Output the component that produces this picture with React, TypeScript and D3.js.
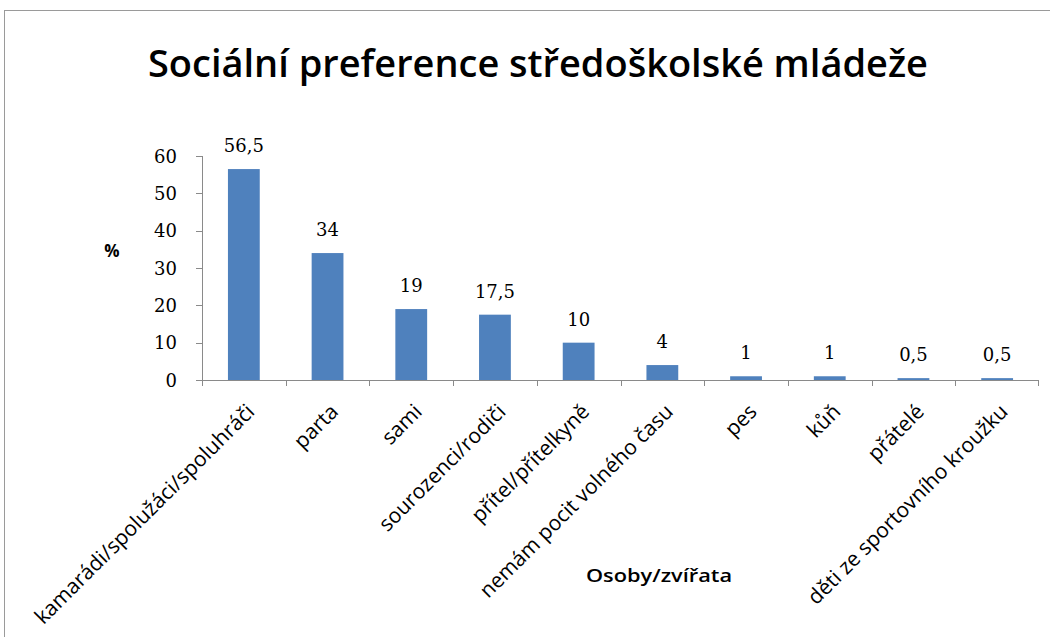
import React from "react";
import * as d3 from "d3";

const categories = [
  "kamarádi/spolužáci/spoluhráči",
  "parta",
  "sami",
  "sourozenci/rodiči",
  "přítel/přítelkyně",
  "nemám pocit volného času",
  "pes",
  "kůň",
  "přátelé",
  "děti ze sportovního kroužku",
];
const values = [56.5, 34, 19, 17.5, 10, 4, 1, 1, 0.5, 0.5];
const valueLabels = ["56,5", "34", "19", "17,5", "10", "4", "1", "1", "0,5", "0,5"];
const yTicks = [0, 10, 20, 30, 40, 50, 60];
const title = "Sociální preference středoškolské mládeže";
const yTitle = "%";
const xTitle = "Osoby/zvířata";

export default function App() {
  const W = 1050, H = 637;
  const left = 202, right = 1039, top = 156, bottom = 380;
  const x = d3.scaleBand<string>().domain(categories).range([left, right]).paddingInner(0).paddingOuter(0);
  const y = d3.scaleLinear().domain([0, 60]).range([bottom, top]);
  const bw = x.bandwidth() * 0.38;
  const axisColor = "#8a8a8a";
  const serif = "'DejaVu Serif', serif";
  const sans = "'Open Sans', sans-serif";
  return (
    <svg width={W} height={H} style={{ position: "absolute", left: 0, top: 0, background: "#fff" }}>
      <rect x={4.5} y={10.5} width={1060} height={700} fill="#fff" stroke="#9a9a9a" strokeWidth={1} />
      <text x={538} y={77} textAnchor="middle" fontFamily={sans} fontWeight={600} fontSize={38}
        textLength={780} lengthAdjust="spacingAndGlyphs" fill="#000">{title}</text>
      {/* bars */}
      {categories.map((c, i) => (
        <rect key={c} x={x(c)! + x.bandwidth() / 2 - bw / 2} y={y(values[i])} width={bw}
          height={y(0) - y(values[i])} fill="#4F81BD" />
      ))}
      {/* value labels */}
      {categories.map((c, i) => (
        <text key={"v" + c} x={x(c)! + x.bandwidth() / 2} y={y(values[i]) - 17} textAnchor="middle"
          fontFamily={serif} fontSize={18} fill="#000">{valueLabels[i]}</text>
      ))}
      {/* y axis */}
      <line x1={left + 0.5} x2={left + 0.5} y1={top} y2={bottom} stroke={axisColor} />
      {yTicks.map((t) => (
        <g key={t}>
          <line x1={left - 6} x2={left} y1={Math.round(y(t)) + 0.5} y2={Math.round(y(t)) + 0.5} stroke={axisColor} />
          <text x={left - 25} y={y(t) + 6.5} textAnchor="end" fontFamily={serif} fontSize={18} fill="#000">{t}</text>
        </g>
      ))}
      {/* x axis */}
      <line x1={left} x2={right} y1={bottom + 0.5} y2={bottom + 0.5} stroke={axisColor} />
      {categories.map((c) => (
        <line key={"t" + c} x1={Math.round(x(c)!) + 0.5} x2={Math.round(x(c)!) + 0.5} y1={bottom} y2={bottom + 6} stroke={axisColor} />
      ))}
      <line x1={right - 0.5} x2={right - 0.5} y1={bottom} y2={bottom + 6} stroke={axisColor} />
      {categories.map((c) => {
        const cx = x(c)! + x.bandwidth() / 2 + 12;
        const cy = bottom + 33;
        return (
          <text key={"l" + c} transform={`translate(${cx},${cy}) rotate(-45)`} textAnchor="end"
            fontFamily={sans} fontSize={21} fill="#000">{c}</text>
        );
      })}
      <text x={112} y={257} textAnchor="middle" fontFamily={sans} fontWeight={700} fontSize={17} fill="#000">{yTitle}</text>
      <text x={659} y={582} textAnchor="middle" fontFamily={sans} fontWeight={600} fontSize={18}
        textLength={146} lengthAdjust="spacingAndGlyphs" fill="#000">{xTitle}</text>
    </svg>
  );
}
